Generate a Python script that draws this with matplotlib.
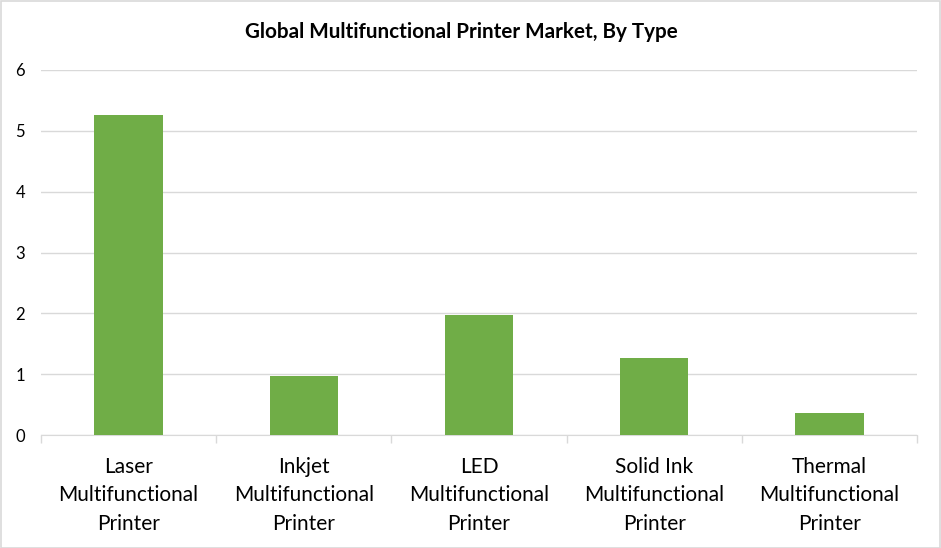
import matplotlib
matplotlib.use("Agg")
import matplotlib.pyplot as plt
from matplotlib.patches import Rectangle

categories = ["Laser\nMultifunctional\nPrinter", "Inkjet\nMultifunctional\nPrinter",
              "LED\nMultifunctional\nPrinter", "Solid Ink\nMultifunctional\nPrinter",
              "Thermal\nMultifunctional\nPrinter"]
values = [5.26, 0.97, 1.98, 1.27, 0.36]
yticks = [0, 1, 2, 3, 4, 5, 6]
title = "Global Multifunctional Printer Market, By Type"

plt.rcParams['font.family'] = ['Lato', 'DejaVu Sans']

fig = plt.figure(figsize=(9.41, 5.48), dpi=100)
ax = fig.add_axes([41/941, 1-435/548, (917-41)/941, (435-70)/548])

x = list(range(len(categories)))
ax.bar(x, values, width=0.39, color="#70AD47", zorder=3)
ax.set_xlim(-0.5, len(categories) - 0.5)
ax.set_ylim(0, 6)
ax.set_yticks(yticks)
ax.set_yticklabels([str(t) for t in yticks], fontsize=12, color="#000000")
ax.tick_params(axis='y', length=0, pad=11.5)
ax.grid(axis='y', color="#D9D9D9", linewidth=1, zorder=0)

ax.set_xticks([i - 0.5 for i in range(len(categories) + 1)], minor=False)
ax.set_xticklabels([])
ax.tick_params(axis='x', which='major', length=6, color="#D9D9D9", width=1)
ax.set_xticks(x, minor=True)
ax.set_xticklabels(categories, minor=True, fontsize=15, linespacing=1.54)
ax.tick_params(axis='x', which='minor', length=0, pad=15.5)

for s in ['top', 'right', 'left']:
    ax.spines[s].set_visible(False)
ax.spines['bottom'].set_color("#D9D9D9")

fig.text(461/941, 1 - 32/548, title, ha='center', va='center', fontsize=14.9, fontweight='bold')

fig.patches.append(Rectangle((0.5/941, 0.5/548), 1 - 1.5/941, 1 - 1.5/548, transform=fig.transFigure,
                             fill=False, edgecolor="#D9D9D9", linewidth=1.2))

fig.savefig("out.png", dpi=100, facecolor="white")
